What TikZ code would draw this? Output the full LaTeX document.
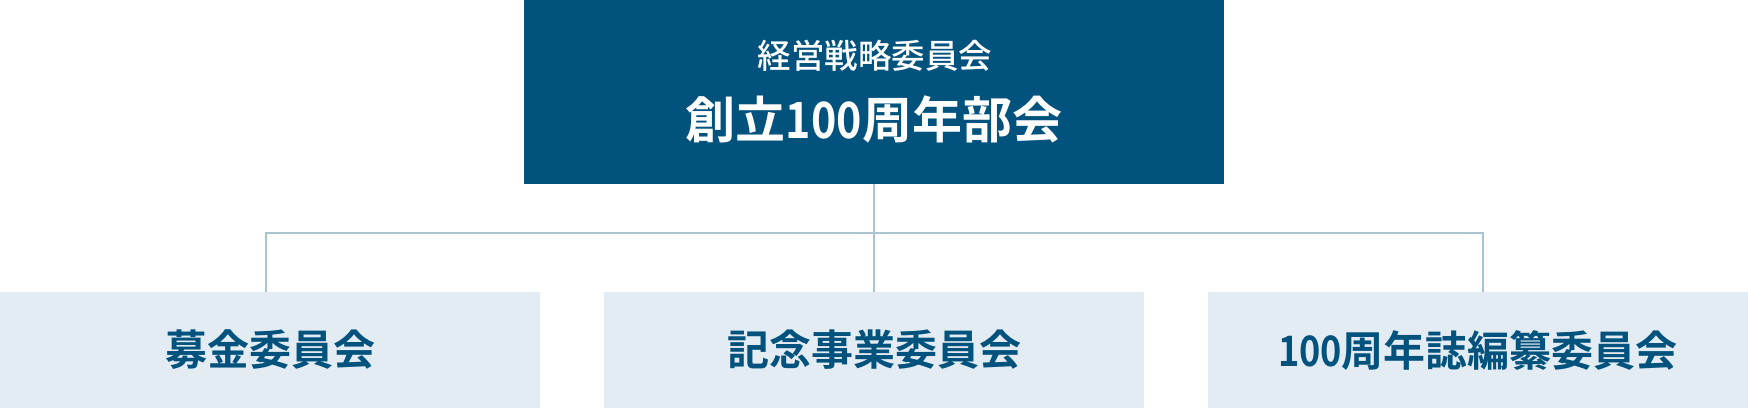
\documentclass[tikz,border=0pt]{standalone}
\usepackage{fontspec}
\newfontfamily\jp{Noto Sans CJK JP Medium}
\newfontfamily\jpb{Noto Sans CJK JP Bold}
\newcommand{\narrowdig}[1]{\scalebox{0.86}[1]{#1}}
\definecolor{navy}{HTML}{02527E}
\definecolor{pale}{HTML}{E4ECF3}
\definecolor{wire}{HTML}{AAC4D2}
\begin{document}
\begin{tikzpicture}[x=1pt,y=-1pt,
  headbox/.style={rectangle,fill=navy,inner sep=0pt,minimum width=700pt,minimum height=184pt},
  subbox/.style={rectangle,fill=pale,inner sep=0pt,minimum width=540pt,minimum height=116pt},
  subtext/.style={text=navy,inner sep=0pt,font=\jpb\fontsize{42}{42}\selectfont},
  conn/.style={draw=wire,line width=2pt}]
\useasboundingbox (0,0) rectangle (1748,408);
\node[headbox] (top) at (874,92) {};
\node[text=white,inner sep=0pt,font=\jp\fontsize{33.5}{34}\selectfont] (toptitle) at (875,56) {経営戦略委員会};
\node[text=white,inner sep=0pt,font=\jpb\fontsize{50}{50}\selectfont] (topmain) at (874,119) {創立\narrowdig{100}周年部会};
\node[subbox] (b1) at (270,350) {};
\node[subbox] (b2) at (874,350) {};
\node[subbox] (b3) at (1478,350) {};
\node[subtext] (t1) at (b1) {募金委員会};
\node[subtext] (t2) at (b2) {記念事業委員会};
\node[subtext] (t3) at (b3) {\narrowdig{100}周年誌編纂委員会};
\coordinate (bus) at (874,232.5);
\draw[conn] (top.south) -- (b2.north);
\draw[conn] ([xshift=-4pt]b1.north) |- (bus) -| ([xshift=5pt]b3.north);
\end{tikzpicture}
\end{document}
